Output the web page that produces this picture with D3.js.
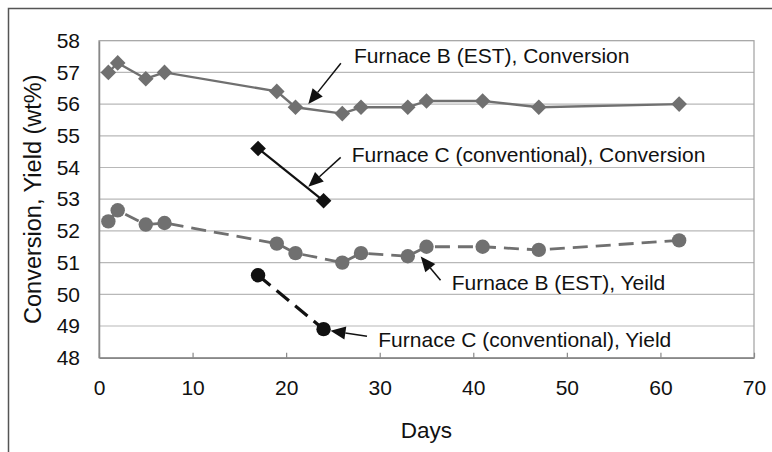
<!DOCTYPE html>
<html>
<head>
<meta charset="utf-8">
<script src="https://cdn.jsdelivr.net/npm/d3@7"></script>
<style>
  html, body { margin: 0; padding: 0; background: #fff; }
  svg { display: block; font-family: "Liberation Sans", Arial, sans-serif; }
</style>
</head>
<body>
<svg id="chart" width="772" height="452"></svg>
<script>
// ---------- data ----------
const bConvDays = [1, 2, 5, 7, 19, 21, 26, 28, 33, 35, 41, 47, 62];
const bConvValues = [57.0, 57.3, 56.8, 57.0, 56.4, 55.9, 55.7, 55.9, 55.9, 56.1, 56.1, 55.9, 56.0];
const cConvDays = [17, 24];
const cConvValues = [54.6, 52.95];
const bYieldDays = [1, 2, 5, 7, 19, 21, 26, 28, 33, 35, 41, 47, 62];
const bYieldValues = [52.3, 52.65, 52.2, 52.25, 51.6, 51.3, 51.0, 51.3, 51.2, 51.5, 51.5, 51.4, 51.7];
const cYieldDays = [17, 24];
const cYieldValues = [50.6, 48.9];
const xTicks = [0, 10, 20, 30, 40, 50, 60, 70];
const yTicks = [48, 49, 50, 51, 52, 53, 54, 55, 56, 57, 58];
const xTitle = "Days";
const yTitle = "Conversion, Yield (wt%)";
const annotationLabels = [
  "Furnace B (EST), Conversion",
  "Furnace C (conventional), Conversion",
  "Furnace B (EST), Yeild",
  "Furnace C (conventional), Yield"
];

// ---------- layout ----------
const svg = d3.select("#chart");
const plot = { left: 99, right: 754, top: 40.7, bottom: 357.7 };
const x = d3.scaleLinear().domain([0, 70]).range([plot.left, plot.right]);
const y = d3.scaleLinear().domain([48, 58]).range([plot.bottom, plot.top]);

svg.append("rect").attr("width", 772).attr("height", 452).attr("fill", "#fff");
// outer frame
svg.append("rect").attr("x", 8.5).attr("y", 8.5).attr("width", 820).attr("height", 520)
  .attr("fill", "none").attr("stroke", "#555").attr("stroke-width", 1.5);

// gridlines
svg.append("g").selectAll("line").data(yTicks.filter(t => t > 48 && t < 58)).join("line")
  .attr("x1", plot.left).attr("x2", plot.right)
  .attr("y1", d => y(d)).attr("y2", d => y(d))
  .attr("stroke", "#b8b8b8").attr("stroke-width", 1.2);

// plot border
svg.append("rect").attr("x", plot.left).attr("y", plot.top)
  .attr("width", plot.right - plot.left).attr("height", plot.bottom - plot.top)
  .attr("fill", "none").attr("stroke", "#a0a0a0").attr("stroke-width", 1.2);

// axes
const xAxis = d3.axisBottom(x).tickValues(xTicks).tickSizeInner(-5).tickSizeOuter(0).tickPadding(22);
const gx = svg.append("g").attr("transform", `translate(0,${plot.bottom})`).call(xAxis);
gx.select(".domain").attr("stroke", "#888").attr("stroke-width", 1.5);
gx.selectAll(".tick line").attr("stroke", "#888").attr("stroke-width", 1.2);
gx.selectAll(".tick text").attr("font-size", 21).attr("fill", "#111")
  .attr("font-family", "Liberation Sans, Arial, sans-serif");

const yAxis = d3.axisLeft(y).tickValues(yTicks).tickSize(0).tickPadding(19);
const gy = svg.append("g").attr("transform", `translate(${plot.left},0)`).call(yAxis);
gy.select(".domain").attr("stroke", "#888").attr("stroke-width", 1.5);
gy.selectAll(".tick text").attr("font-size", 21).attr("fill", "#111")
  .attr("font-family", "Liberation Sans, Arial, sans-serif");

// axis titles
svg.append("text").attr("x", (plot.left + plot.right) / 2).attr("y", 438)
  .attr("text-anchor", "middle").attr("font-size", 22.5).attr("fill", "#111").text(xTitle);
svg.append("text").attr("transform", `translate(41,${(plot.top + plot.bottom) / 2}) rotate(-90)`)
  .attr("text-anchor", "middle").attr("font-size", 23.5).attr("fill", "#111").text(yTitle);

// ---------- series ----------
const gray = "#707070", black = "#111";
const line = d3.line().x(d => x(d[0])).y(d => y(d[1]));
const zip = (a, b) => a.map((d, i) => [d, b[i]]);

function diamond(s) { return `M0,${-s}L${s},0L0,${s}L${-s},0Z`; }

function drawSeries(days, vals, color, dash, width, marker) {
  const pts = zip(days, vals);
  svg.append("path").datum(pts).attr("d", line).attr("fill", "none")
    .attr("stroke", color).attr("stroke-width", width)
    .attr("stroke-dasharray", dash);
  const g = svg.append("g");
  if (marker === "diamond") {
    g.selectAll("path").data(pts).join("path")
      .attr("transform", d => `translate(${x(d[0])},${y(d[1])})`)
      .attr("d", diamond(7.8)).attr("fill", color);
  } else {
    g.selectAll("circle").data(pts).join("circle")
      .attr("cx", d => x(d[0])).attr("cy", d => y(d[1])).attr("r", 7.2).attr("fill", color);
  }
}
drawSeries(bConvDays, bConvValues, gray, null, 2.4, "diamond");
drawSeries(cConvDays, cConvValues, black, null, 2.2, "diamond");
drawSeries(bYieldDays, bYieldValues, gray, "15,8", 2.8, "circle");
drawSeries(cYieldDays, cYieldValues, black, "16,8", 3.2, "circle");

// ---------- annotations (data coordinates) ----------
const annotations = [
  { text: annotationLabels[0], tx: 27.25, ty: 57.3, from: [25.85, 57.29], to: [22.37, 56.0] },
  { text: annotationLabels[1], tx: 27.0, ty: 54.17, from: [25.83, 54.32], to: [22.37, 53.39] },
  { text: annotationLabels[2], tx: 37.69, ty: 50.14, from: [36.5, 50.44], to: [34.38, 51.19] },
  { text: annotationLabels[3], tx: 29.85, ty: 48.35, from: [28.64, 48.68], to: [24.74, 48.85] }
];
annotations.forEach(a => {
  svg.append("text").attr("x", x(a.tx)).attr("y", y(a.ty))
    .attr("font-size", 21).attr("fill", "#111").text(a.text);
  const x1 = x(a.from[0]), y1 = y(a.from[1]), x2 = x(a.to[0]), y2 = y(a.to[1]);
  const ang = Math.atan2(y2 - y1, x2 - x1);
  const L = 15, W = 6.5;
  const bx = x2 - L * Math.cos(ang), by = y2 - L * Math.sin(ang);
  svg.append("line").attr("x1", x1).attr("y1", y1).attr("x2", bx).attr("y2", by)
    .attr("stroke", black).attr("stroke-width", 1.5);
  const px = -Math.sin(ang), py = Math.cos(ang);
  svg.append("path")
    .attr("d", `M${x2},${y2}L${bx + px * W},${by + py * W}L${bx - px * W},${by - py * W}Z`)
    .attr("fill", black);
});
</script>
</body>
</html>
